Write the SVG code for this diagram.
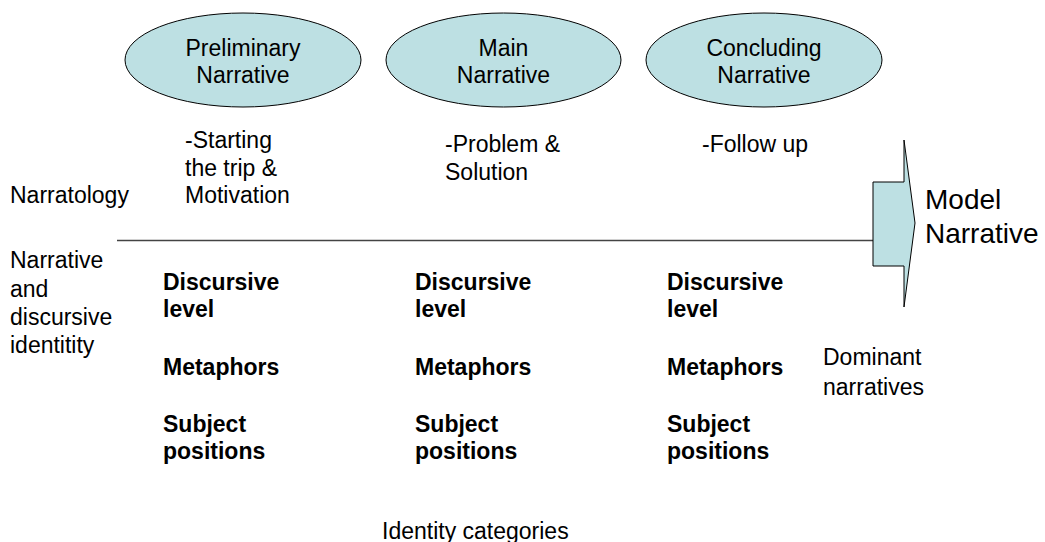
<svg xmlns="http://www.w3.org/2000/svg" width="1045" height="542" viewBox="0 0 1045 542">
<style>
  .t { font-family: "Liberation Sans", Arial, sans-serif; font-size: 23px; fill: #000; }
  .b { font-weight: bold; }
  .ctr { text-anchor: middle; }
  .big { font-size: 28px; }
  .shape { fill: #bde0e3; stroke: #000; stroke-width: 1; }
</style>
<rect width="1045" height="542" fill="#fff"/>
<g id="connectors">
  <line x1="117" y1="240.5" x2="873" y2="240.5" stroke="#444" stroke-width="1.3"/>
</g>
<g id="preliminary">
  <ellipse class="shape" cx="243" cy="60" rx="118" ry="47"/>
  <text class="t ctr" x="243" y="56">Preliminary</text>
  <text class="t ctr" x="243" y="83">Narrative</text>
</g>
<g id="main">
  <ellipse class="shape" cx="503.5" cy="60" rx="117.5" ry="47"/>
  <text class="t ctr" x="503.5" y="56">Main</text>
  <text class="t ctr" x="503.5" y="83">Narrative</text>
</g>
<g id="concluding">
  <ellipse class="shape" cx="764" cy="60" rx="118" ry="47"/>
  <text class="t ctr" x="764" y="56">Concluding</text>
  <text class="t ctr" x="764" y="83">Narrative</text>
</g>
<g id="model-arrow">
  <path class="shape" d="M873,182 L904,182 L904,140 L915,223 L904,307 L904,266 L873,266 Z"/>
  <text class="t big" x="925" y="209">Model</text>
  <text class="t big" x="925" y="243">Narrative</text>
</g>
<g id="phase-notes">
  <text class="t" x="185" y="148">-Starting</text>
  <text class="t" x="185" y="176">the trip &amp;</text>
  <text class="t" x="185" y="203">Motivation</text>
  <text class="t" x="445" y="152">-Problem &amp;</text>
  <text class="t" x="445" y="180">Solution</text>
  <text class="t" x="702" y="152">-Follow up</text>
</g>
<g id="left-labels">
  <text class="t" x="10" y="203">Narratology</text>
  <text class="t" x="10" y="268">Narrative</text>
  <text class="t" x="10" y="297">and</text>
  <text class="t" x="10" y="325">discursive</text>
  <text class="t" x="10" y="353">identitity</text>
</g>
<g id="col1">
  <text class="t b" x="163" y="290">Discursive</text>
  <text class="t b" x="163" y="317">level</text>
  <text class="t b" x="163" y="375">Metaphors</text>
  <text class="t b" x="163" y="432">Subject</text>
  <text class="t b" x="163" y="459">positions</text>
</g>
<g id="col2">
  <text class="t b" x="415" y="290">Discursive</text>
  <text class="t b" x="415" y="317">level</text>
  <text class="t b" x="415" y="375">Metaphors</text>
  <text class="t b" x="415" y="432">Subject</text>
  <text class="t b" x="415" y="459">positions</text>
</g>
<g id="col3">
  <text class="t b" x="667" y="290">Discursive</text>
  <text class="t b" x="667" y="317">level</text>
  <text class="t b" x="667" y="375">Metaphors</text>
  <text class="t b" x="667" y="432">Subject</text>
  <text class="t b" x="667" y="459">positions</text>
</g>
<g id="dominant">
  <text class="t" x="823" y="365">Dominant</text>
  <text class="t" x="823" y="395">narratives</text>
</g>
<g id="identity">
  <text class="t" x="382" y="539">Identity categories</text>
</g>
</svg>
